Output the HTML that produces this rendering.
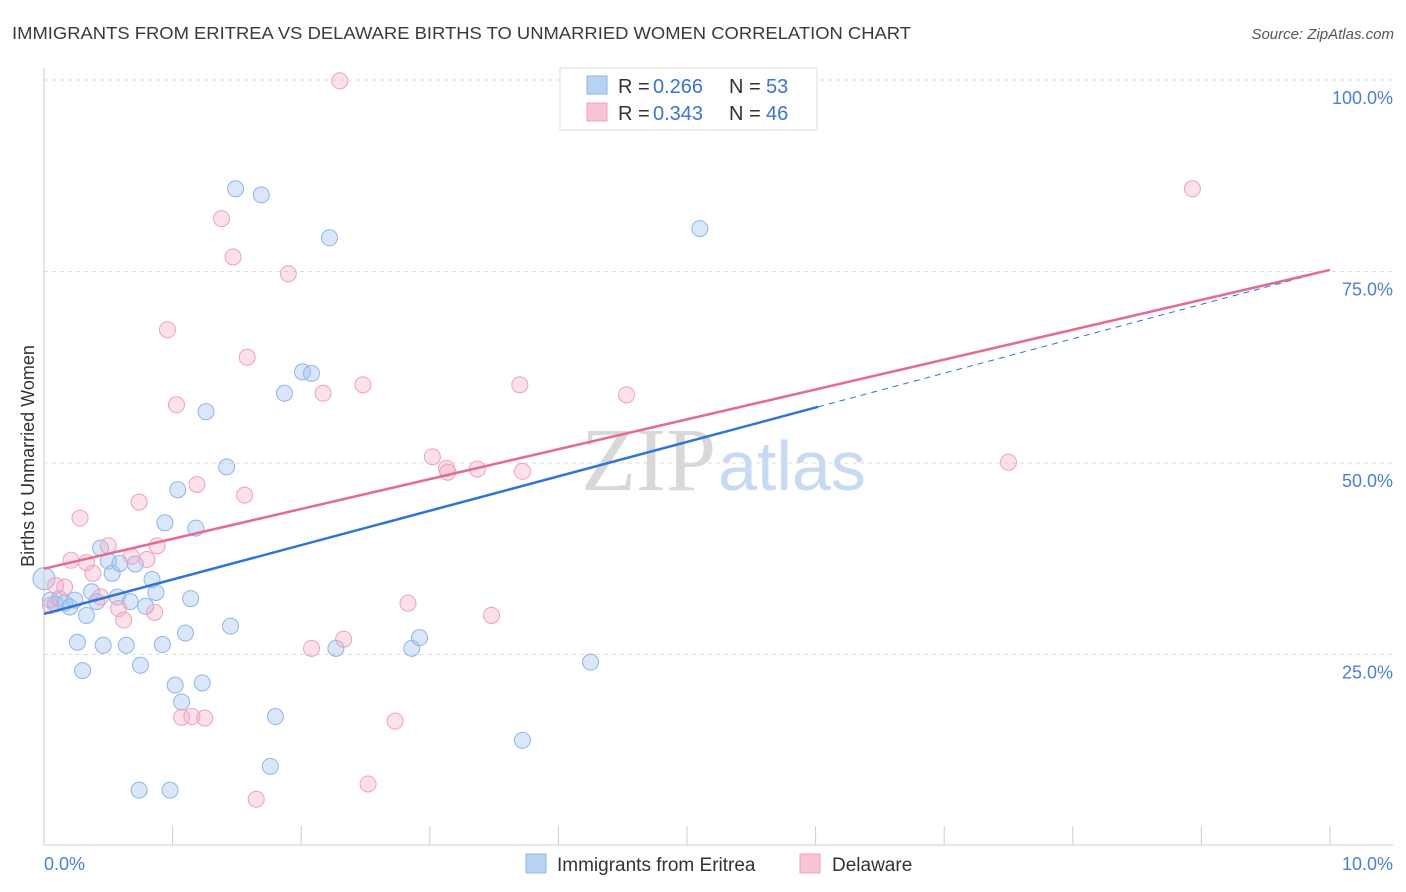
<!DOCTYPE html>
<html><head><meta charset="utf-8"><style>
body{margin:0;background:#fff;width:1406px;height:892px;overflow:hidden;font-family:"Liberation Sans",sans-serif}
svg{position:absolute;left:0;top:0}
</style></head><body>
<svg width="1406" height="892">
<text x="12" y="39" font-size="17.5" fill="#3a3a3a" textLength="899" lengthAdjust="spacingAndGlyphs">IMMIGRANTS FROM ERITREA VS DELAWARE BIRTHS TO UNMARRIED WOMEN CORRELATION CHART</text>
<text x="1394" y="39" font-size="15" fill="#555" font-style="italic" text-anchor="end">Source: ZipAtlas.com</text>
<g id="grid"></g>
<line x1="44" y1="68" x2="44" y2="845" stroke="#ccc"/>
<line x1="44" y1="845" x2="1393" y2="845" stroke="#ccc"/>
<g id="xticks"></g>
<text x="716" y="490" font-size="90" fill="#d8d8d8" text-anchor="end" font-family="Liberation Serif">ZIP</text>
<text x="718" y="490" font-size="70" fill="#c8daf2">atlas</text>
<text transform="translate(34,456) rotate(-90)" font-size="18" fill="#333" text-anchor="middle">Births to Unmarried Women</text>
<text x="44" y="870" font-size="18" fill="#4a7fd8">0.0%</text>
<text x="1393" y="870" font-size="18" fill="#4a7fd8" text-anchor="end">10.0%</text>
<g id="ylabels"></g>
<g id="pts"></g>
<g id="lines"></g>
<g>
<rect x="560" y="68" width="257" height="62" fill="#fff" stroke="#ddd"/>
<rect x="587" y="76" width="20" height="18" fill="#b8d2f4" stroke="#8fb5e8"/>
<rect x="587" y="103" width="20" height="18" fill="#f9c4d4" stroke="#f0a0bc"/>
<text x="618" y="93" font-size="20" fill="#333">R =</text><text x="653" y="93" font-size="20" fill="#3b73d6">0.266</text>
<text x="729" y="93" font-size="20" fill="#333">N =</text><text x="766" y="93" font-size="20" fill="#3b73d6">53</text>
<text x="618" y="120" font-size="20" fill="#333">R =</text><text x="653" y="120" font-size="20" fill="#3b73d6">0.343</text>
<text x="729" y="120" font-size="20" fill="#333">N =</text><text x="766" y="120" font-size="20" fill="#3b73d6">46</text>
</g>
<g>
<rect x="526" y="854" width="20" height="19" fill="#b8d2f4" stroke="#8fb5e8"/>
<text x="557" y="871" font-size="19" fill="#333">Immigrants from Eritrea</text>
<rect x="800" y="854" width="20" height="19" fill="#f9c4d4" stroke="#f0a0bc"/>
<text x="832" y="871" font-size="19" fill="#333">Delaware</text>
</g>
</svg>
<script>
const blueX=[0.00,0.05,0.09,0.12,0.16,0.20,0.24,0.26,0.30,0.33,0.37,0.41,0.44,0.46,0.50,0.53,0.57,0.59,0.64,0.67,0.71,0.75,0.74,0.79,0.84,0.87,0.92,0.94,0.98,1.02,1.04,1.07,1.10,1.14,1.18,1.23,1.26,1.42,1.45,1.49,1.69,1.80,1.76,1.87,2.01,2.08,2.22,2.27,2.86,2.92,3.72,4.25,5.10];
const blueY=[34.9,32.1,31.6,32.3,31.7,31.2,32.1,26.6,22.9,30.1,33.2,31.9,38.9,26.2,37.2,35.6,32.5,36.9,26.2,31.9,36.8,23.6,7.3,31.3,34.8,33.1,26.3,42.2,7.3,21.0,46.5,18.8,27.8,32.3,41.5,21.3,56.7,49.5,28.7,85.8,85.0,16.9,10.4,59.1,61.9,61.7,79.4,25.8,25.8,27.2,13.8,24.0,80.6];
const pinkX=[2.30,8.93,1.38,1.47,1.90,0.96,1.58,2.48,3.70,4.53,2.17,1.03,3.02,3.13,3.14,3.37,3.72,7.50,1.19,1.56,0.74,0.28,0.21,0.33,0.50,0.68,0.80,0.88,0.38,0.16,0.09,0.44,0.58,0.62,0.86,2.83,3.48,2.33,2.08,2.73,1.07,1.15,1.25,1.65,2.52,0.05];
const pinkY=[99.9,85.8,81.9,76.9,74.7,67.4,63.8,60.2,60.2,58.9,59.1,57.6,50.8,49.3,48.8,49.2,48.9,50.1,47.2,45.8,44.9,42.8,37.3,37.0,39.2,37.8,37.4,39.2,35.6,33.8,34.0,32.5,31.0,29.5,30.5,31.7,30.1,27.0,25.8,16.3,16.8,16.9,16.7,6.1,8.1,31.4];
const yTicks=[25,50,75,100];
const yTickLabels=["25.0%","50.0%","75.0%","100.0%"];
const blueTrend=[30.3,75.2];
const pinkTrend=[36.2,75.2];
const blueSolidEnd=6.02;
const NS="http://www.w3.org/2000/svg";
const sx=v=>44+v*128.6, sy=v=>846-v*7.66;
function mk(t,a,p){const e=document.createElementNS(NS,t);for(const k in a)e.setAttribute(k,a[k]);p.appendChild(e);return e;}
const grid=document.getElementById('grid'),yl=document.getElementById('ylabels');
yTicks.forEach((t,i)=>{
 const l=mk('line',{x1:44,x2:1393,y1:sy(t),y2:sy(t),stroke:'#ddd','stroke-dasharray':'4,4'},grid);
 
 
 const tx=mk('text',{x:1393,y:sy(t)+24,'font-size':18,fill:'#4a7fd8','text-anchor':'end'},yl);
 tx.textContent=yTickLabels[i];
 
 
});
const xt=document.getElementById('xticks');
for(let i=1;i<=10;i++){const l=mk('line',{x1:sx(i),x2:sx(i),y1:826,y2:845,stroke:'#ccc'},xt);
 
 }
const pts=document.getElementById('pts');
blueX.forEach((x,i)=>{const c=mk('circle',{cx:sx(x),cy:sy(blueY[i]),r:i===0?11:8,fill:'rgba(160,196,240,0.4)',stroke:'#8fb5e8','stroke-width':1},pts);
 
 });
pinkX.forEach((x,i)=>{const c=mk('circle',{cx:sx(x),cy:sy(pinkY[i]),r:8,fill:'rgba(245,170,195,0.35)',stroke:'#f0a0bc','stroke-width':1},pts);
 
 });
const ln=document.getElementById('lines');
const by=x=>blueTrend[0]+(blueTrend[1]-blueTrend[0])*x/10;
let a=mk('line',{x1:sx(0),y1:sy(by(0)),x2:sx(blueSolidEnd),y2:sy(by(blueSolidEnd)),stroke:'#2f74d6','stroke-width':2.5},ln);


a=mk('line',{x1:sx(blueSolidEnd),y1:sy(by(blueSolidEnd)),x2:sx(10),y2:sy(by(10)),stroke:'#2f74d6','stroke-width':1,'stroke-dasharray':'6,5'},ln);


a=mk('line',{x1:sx(0),y1:sy(pinkTrend[0]),x2:sx(10),y2:sy(pinkTrend[1]),stroke:'#e56b94','stroke-width':2.5},ln);


</script>
</body></html>
